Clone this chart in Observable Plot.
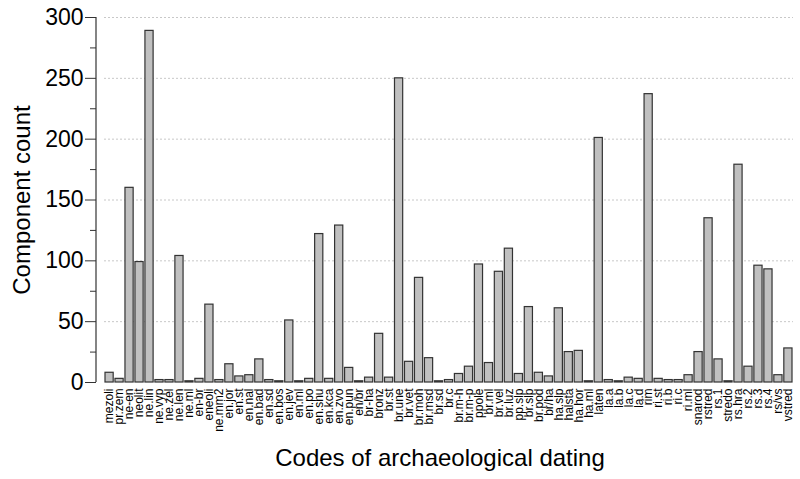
<!DOCTYPE html>
<html>
<head>
<meta charset="utf-8">
<script src="https://cdn.jsdelivr.net/npm/d3@7"></script>
<script src="https://cdn.jsdelivr.net/npm/@observablehq/plot@0.6"></script>
<style>
  html, body { margin: 0; padding: 0; background: #fff; }
  #chart svg { display: block; }
</style>
</head>
<body>
<div id="chart"></div>
<script>
const codes = ["mezoli","pr.zem","ne-en","neolit","ne.lin","ne.vyp","ne.zel","ne.len","ne.ml","en-br","eneoli","ne.mm2","en.jor","en.st","en.nal","en.bad","en.sd",
  "en.bos","en.jev","en.ml","en.po","en.snu","en.kca","en.zvo","en.pun","en/br","br-ha","bronz","br.st","br.une","br.vet","br.moh","br.msd","br.sd",
  "br.c","br.m-h","br.m-p","ppole","br.ml","br.vel","br.luz","pp.slp","br.slp","br.pod","br/ha","ha.slp","halsta","ha.hor","ha.ml","laten","la.a",
  "la.b","la.c","la.d","rim","ri.st","ri.b","ri.c","ri.ml","snarod","rstred","rs.1","stredo","rs.hra","rs.2","rs.3","rs.4","rs/vs","vstred"];
const counts = [8,3,160,99,289,2,2,104,1,3,64,2,15,5,6,19,2,
  1,51,1,3,122,3,129,12,1,4,40,4,250,17,86,20,1,
  2,7,13,97,16,91,110,7,62,8,5,61,25,26,1,201,2,
  1,4,3,237,3,2,2,6,25,135,19,1,179,13,96,93,6,28];
const yMinorTicks = [25,75,125,175,225,275];
const yMajorTicks = [0,50,100,150,200,250,300];
const xTitle = "Codes of archaeological dating";
const yTitle = "Component count";

const data = codes.map((c, i) => ({code: c, count: counts[i]}));

const chart = Plot.plot({
  width: 800,
  height: 479,
  marginLeft: 104,
  marginRight: 7,
  marginTop: 17,
  marginBottom: 97,
  style: {fontFamily: "'Liberation Sans', Arial, sans-serif", background: "#fff", color: "#000"},
  x: {domain: codes, padding: 0.18, paddingOuter: 0.1},
  y: {domain: [0, 300]},
  marks: [
    Plot.gridY(yMajorTicks.filter(d => d > 0), {stroke: "#c8c8c8", strokeOpacity: 1, strokeDasharray: "2,2"}),
    Plot.barY(data, {x: "code", y: "count", fill: "#c0c0c0", stroke: "#333", strokeWidth: 1.2}),
    Plot.axisY(yMajorTicks, {
      tickSize: 11, dx: -8, tickPadding: 2, fontSize: 23, label: null, stroke: "#333"
    }),
    Plot.axisY(yMinorTicks, {
      tickSize: 6, dx: -8, tickFormat: () => "", label: null, stroke: "#333"
    }),
    Plot.axisX({tickRotate: -90, tickSize: 0, tickPadding: 6, fontSize: 12, label: null}),
    Plot.text([yTitle], {frameAnchor: "left", textAnchor: "middle", rotate: -90, dx: -82, fontSize: 24, fill: "#000"}),
    Plot.text([xTitle], {frameAnchor: "bottom", textAnchor: "middle", dx: -9, dy: 83, fontSize: 24, fill: "#000"})
  ]
});

// y axis domain line, offset from the plot area, positioned with the chart's own y scale
const ys = chart.scale("y");
const sy = d3.scaleLinear().domain(ys.domain).range(ys.range);
d3.select(chart).append("line")
  .attr("x1", 96).attr("x2", 96)
  .attr("y1", sy(0)).attr("y2", sy(300))
  .attr("stroke", "#333").attr("stroke-width", 1.2);

document.getElementById("chart").appendChild(chart);
</script>
</body>
</html>
